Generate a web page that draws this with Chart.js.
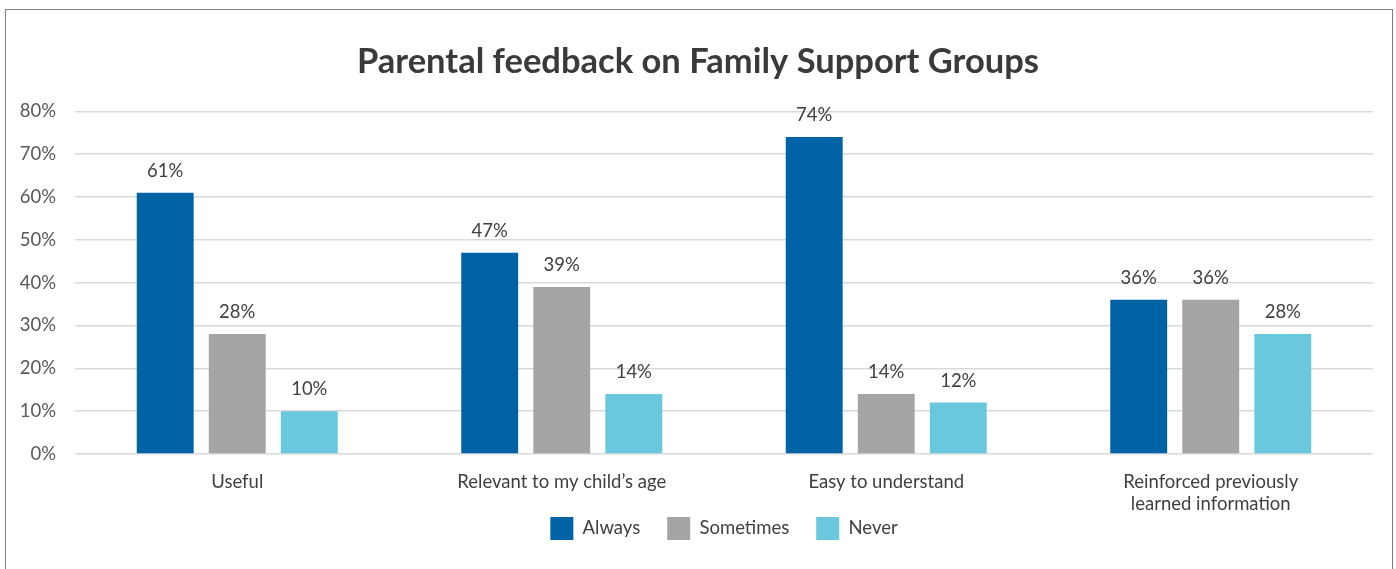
<!DOCTYPE html>
<html>
<head>
<meta charset="utf-8">
<script src="https://cdn.jsdelivr.net/npm/chart.js@4"></script>
<style>
  html, body { margin: 0; padding: 0; background: #ffffff; }
  #wrap { position: relative; width: 1396px; height: 569px; overflow: hidden; }
  #frame { position: absolute; left: 5px; top: 9px; width: 1386px; height: 600px; border: 1.5px solid #7f7f7f; pointer-events: none; }
  canvas { position: absolute; left: 0; top: 0; }
</style>
</head>
<body>
<div id="wrap">
  <canvas id="chart" width="1396" height="569"></canvas>
  <div id="frame"></div>
</div>
<script>
const categories = [
  'Useful',
  "Relevant to my child\u2019s age",
  'Easy to understand',
  ['Reinforced previously', 'learned information']
];
const alwaysValues = [61, 47, 74, 36];
const sometimesValues = [28, 39, 14, 36];
const neverValues = [10, 14, 12, 28];
const yTicks = [0, 10, 20, 30, 40, 50, 60, 70, 80];

const FONT = "Lato, 'Open Sans', 'DejaVu Sans', sans-serif";

// Percent labels above each bar
const barValueLabels = {
  id: 'barValueLabels',
  afterDatasetsDraw(chart) {
    const ctx = chart.ctx;
    ctx.save();
    ctx.font = '18.5px ' + FONT;
    ctx.fillStyle = '#404040';
    ctx.textAlign = 'center';
    ctx.textBaseline = 'middle';
    chart.data.datasets.forEach((ds, i) => {
      const meta = chart.getDatasetMeta(i);
      meta.data.forEach((bar, j) => {
        ctx.fillText(ds.data[j] + '%', bar.x, bar.y - 22);
      });
    });
    ctx.restore();
  }
};

// Centre the title on the whole frame and pull the legend up under the category labels
const blockTweaks = {
  id: 'blockTweaks',
  afterLayout(chart) {
    const lg = chart.legend;
    if (lg) { lg.top -= 24; lg.bottom -= 24; }
    const tb = chart.titleBlock;
    if (tb) { tb.left += 23; }
  }
};

new Chart(document.getElementById('chart'), {
  type: 'bar',
  data: {
    labels: categories,
    datasets: [
      { label: 'Always', data: alwaysValues, backgroundColor: '#0063a6' },
      { label: 'Sometimes', data: sometimesValues, backgroundColor: '#a5a5a5' },
      { label: 'Never', data: neverValues, backgroundColor: '#69c8de' }
    ]
  },
  options: {
    responsive: false,
    animation: false,
    layout: { padding: { left: 0, right: 23, top: 0, bottom: -5 } },
    datasets: {
      bar: { categoryPercentage: 0.666, barPercentage: 0.79 }
    },
    scales: {
      x: {
        grid: { display: false },
        border: { display: false },
        ticks: {
          color: '#404040',
          font: { family: FONT, size: 18.5 },
          padding: 9,
          maxRotation: 0
        },
        afterFit(scale) { scale.height = 60; }
      },
      y: {
        min: 0,
        max: 80,
        afterBuildTicks(scale) { scale.ticks = yTicks.map(v => ({ value: v })); },
        grid: { color: '#d9d9d9', lineWidth: 1.5, drawTicks: false },
        border: { display: false },
        ticks: {
          color: '#595959',
          font: { family: FONT, size: 18.5 },
          padding: 19,
          callback: v => v + '%'
        },
        afterFit(scale) { scale.width = 75; }
      }
    },
    plugins: {
      title: {
        display: true,
        text: 'Parental feedback on Family Support Groups',
        color: '#3a3a3a',
        font: { family: FONT, size: 34.5, weight: 'bold' },
        padding: { top: 41, bottom: 29 }
      },
      legend: {
        position: 'bottom',
        fullSize: false,
        labels: {
          color: '#404040',
          font: { family: FONT, size: 18.5 },
          boxWidth: 23,
          boxHeight: 23,
          padding: 27
        }
      },
      tooltip: { enabled: false }
    }
  },
  plugins: [barValueLabels, blockTweaks]
});
</script>
</body>
</html>
